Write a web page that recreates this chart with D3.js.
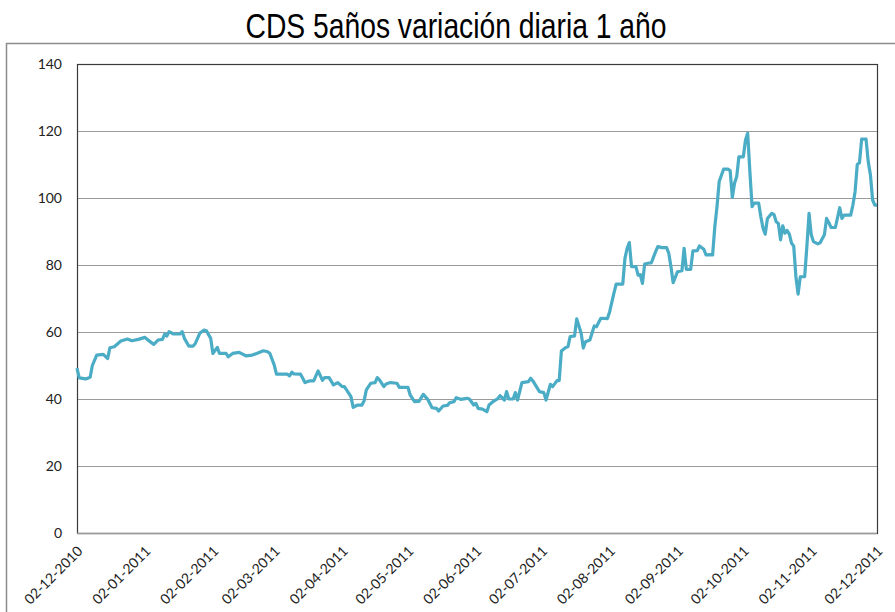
<!DOCTYPE html>
<html>
<head>
<meta charset="utf-8">
<script src="https://cdn.jsdelivr.net/npm/d3@7"></script>
<style>
  body { margin: 0; background: #fff; }
  svg { display: block; }
</style>
</head>
<body>
<svg width="895" height="612"></svg>
<script>
// CDS 5 years, daily readings
var dates = [
  "2010-12-02","2010-12-03","2010-12-06","2010-12-08","2010-12-09","2010-12-11","2010-12-14","2010-12-16","2010-12-17","2010-12-19",
  "2010-12-22","2010-12-25","2010-12-27","2010-12-30","2011-01-02","2011-01-03","2011-01-06","2011-01-08","2011-01-10","2011-01-11",
  "2011-01-12","2011-01-13","2011-01-15","2011-01-18","2011-01-19","2011-01-20","2011-01-22","2011-01-24","2011-01-25","2011-01-27",
  "2011-01-29","2011-01-30","2011-02-01","2011-02-02","2011-02-04","2011-02-05","2011-02-08","2011-02-09","2011-02-11","2011-02-14",
  "2011-02-17","2011-02-20","2011-02-22","2011-02-25","2011-02-27","2011-02-28","2011-03-02","2011-03-03","2011-03-08","2011-03-09",
  "2011-03-10","2011-03-11","2011-03-14","2011-03-15","2011-03-16","2011-03-18","2011-03-20","2011-03-22","2011-03-24","2011-03-25",
  "2011-03-27","2011-03-29","2011-03-31","2011-04-02","2011-04-03","2011-04-06","2011-04-07","2011-04-09","2011-04-11","2011-04-12",
  "2011-04-13","2011-04-15","2011-04-17","2011-04-18","2011-04-19","2011-04-21","2011-04-22","2011-04-24","2011-04-27","2011-04-28",
  "2011-05-02","2011-05-03","2011-05-05","2011-05-07","2011-05-09","2011-05-11","2011-05-13","2011-05-15","2011-05-16","2011-05-18",
  "2011-05-20","2011-05-21","2011-05-23","2011-05-24","2011-05-26","2011-05-29","2011-05-30","2011-06-01","2011-06-02","2011-06-03",
  "2011-06-05","2011-06-07","2011-06-08","2011-06-10","2011-06-12","2011-06-13","2011-06-15","2011-06-16","2011-06-17","2011-06-19",
  "2011-06-20","2011-06-21","2011-06-23","2011-06-26","2011-06-27","2011-06-28","2011-07-01","2011-07-03","2011-07-04","2011-07-06",
  "2011-07-07","2011-07-09","2011-07-10","2011-07-11","2011-07-13","2011-07-14","2011-07-15","2011-07-17","2011-07-18","2011-07-20",
  "2011-07-21","2011-07-22","2011-07-24","2011-07-26","2011-07-27","2011-07-29","2011-08-01","2011-08-02","2011-08-04","2011-08-05",
  "2011-08-08","2011-08-09","2011-08-10","2011-08-11","2011-08-12","2011-08-14","2011-08-15","2011-08-16","2011-08-17","2011-08-18",
  "2011-08-20","2011-08-21","2011-08-23","2011-08-24","2011-08-26","2011-08-28","2011-08-29","2011-08-30","2011-08-31","2011-09-02",
  "2011-09-04","2011-09-05","2011-09-06","2011-09-08","2011-09-09","2011-09-11","2011-09-12","2011-09-14","2011-09-15","2011-09-17",
  "2011-09-18","2011-09-19","2011-09-20","2011-09-21","2011-09-23","2011-09-25","2011-09-26","2011-09-27","2011-09-28","2011-09-29",
  "2011-09-30","2011-10-02","2011-10-03","2011-10-04","2011-10-05","2011-10-06","2011-10-07","2011-10-09","2011-10-10","2011-10-11",
  "2011-10-12","2011-10-13","2011-10-15","2011-10-16","2011-10-17","2011-10-18","2011-10-19","2011-10-20","2011-10-21","2011-10-22",
  "2011-10-23","2011-10-24","2011-10-25","2011-10-26","2011-10-27","2011-10-28","2011-10-30","2011-10-31","2011-11-01","2011-11-02",
  "2011-11-03","2011-11-05","2011-11-06","2011-11-08","2011-11-09","2011-11-10","2011-11-11","2011-11-13","2011-11-15","2011-11-16",
  "2011-11-17","2011-11-20","2011-11-21","2011-11-22","2011-11-23","2011-11-24","2011-11-25","2011-11-27","2011-11-28","2011-11-29",
  "2011-11-30","2011-12-01","2011-12-02"
];

var values = [
  49.2,46.3,46.0,46.5,50.0,53.1,53.3,52.1,55.3,55.6,
  57.3,57.9,57.4,57.8,58.4,57.8,56.3,57.6,57.8,59.4,
  58.8,60.1,59.4,59.4,60.1,58.1,55.8,55.8,56.6,59.6,
  60.6,60.4,58.1,53.6,55.4,53.6,53.6,52.6,53.6,53.9,
  52.9,53.1,53.6,54.4,54.1,53.6,50.1,47.4,47.4,46.9,
  48.0,47.5,47.4,46.2,44.9,45.4,45.4,48.4,45.6,46.4,
  46.4,44.2,44.9,43.7,43.7,40.7,37.5,38.2,38.2,39.5,
  42.7,44.7,44.9,46.4,45.7,43.7,44.5,44.9,44.7,43.5,
  43.5,41.2,39.2,39.3,41.4,39.9,37.4,37.2,36.4,37.9,
  38.1,38.9,39.2,40.4,39.9,40.2,40.0,38.2,38.7,37.2,
  37.0,36.2,38.2,39.3,40.1,41.0,39.7,42.2,40.0,40.0,
  41.9,39.7,44.9,45.2,46.2,45.4,42.2,41.9,39.7,44.4,
  43.7,45.5,45.5,54.3,55.4,55.6,58.6,58.8,63.9,59.7,
  55.2,57.1,57.6,61.8,61.6,64.1,64.0,66.0,71.7,74.3,
  74.3,82.0,85.0,86.7,79.5,79.5,77.0,77.1,74.5,80.3,
  80.6,80.6,84.0,85.5,85.2,85.2,83.5,79.5,74.7,78.0,
  78.3,85.0,78.7,78.7,84.2,84.3,85.7,84.7,83.0,83.1,
  83.0,91.4,97.4,104.9,108.6,108.6,108.2,100.2,104.4,106.4,
  112.3,112.3,117.3,119.3,107.9,97.4,98.5,98.5,94.4,91.0,
  89.2,93.9,95.4,95.1,92.9,92.4,87.5,91.7,89.5,90.3,
  89.2,86.5,85.7,76.5,71.3,76.5,76.5,85.5,95.4,89.0,
  87.0,86.3,86.6,89.0,93.9,92.7,91.2,91.2,97.1,93.9,
  94.9,94.9,97.9,101.9,110.0,110.5,117.6,117.6,110.8,106.9,
  99.4,97.9,97.9
];

var yTicks = [0, 20, 40, 60, 80, 100, 120, 140];
var xTicks = ["2010-12-02","2011-01-02","2011-02-02","2011-03-02","2011-04-02","2011-05-02","2011-06-02",
              "2011-07-02","2011-08-02","2011-09-02","2011-10-02","2011-11-02","2011-12-02"];

var parse = d3.timeParse("%Y-%m-%d"),
    fmt = d3.timeFormat("%d-%m-%Y");

var data = dates.map(function(d, i) { return {date: parse(d), value: values[i]}; });

var svg = d3.select("svg"),
    margin = {top: 64, right: 18, bottom: 79, left: 77},
    width = 877 - margin.left,
    height = 533 - margin.top;

// outer chart frame
svg.append("rect")
    .attr("x", 6.5).attr("y", 43.5)
    .attr("width", 900).attr("height", 600)
    .attr("fill", "none")
    .attr("stroke", "#8c8c8c")
    .attr("stroke-width", 1.5);

svg.append("text")
    .attr("x", 456).attr("y", 38)
    .attr("text-anchor", "middle")
    .attr("textLength", 421)
    .attr("lengthAdjust", "spacingAndGlyphs")
    .style("font-family", "'Liberation Sans', Arial, sans-serif")
    .style("font-size", "35px")
    .attr("fill", "#000")
    .text("CDS 5años variación diaria 1 año");

var x = d3.scaleTime()
    .domain([parse(xTicks[0]), parse(xTicks[xTicks.length - 1])])
    .range([0, width]);
var y = d3.scaleLinear().domain([0, 140]).range([height, 0]);

var g = svg.append("g")
    .attr("transform", "translate(" + margin.left + "," + margin.top + ")");

// gridlines
g.append("g")
    .call(d3.axisLeft(y).tickValues(yTicks).tickSize(-width).tickFormat(""))
    .call(function(s) { s.select(".domain").remove(); })
    .selectAll("line")
      .attr("stroke", "#9a9a9a");

// plot border
g.append("rect")
    .attr("x", 0.5).attr("y", 0.5)
    .attr("width", width).attr("height", height)
    .attr("fill", "none")
    .attr("stroke", "#3a3a3a")
    .attr("stroke-width", 1.2);

g.append("line")
    .attr("x1", 0).attr("x2", width)
    .attr("y1", height + 0.5).attr("y2", height + 0.5)
    .attr("stroke", "#9a9a9a").attr("stroke-width", 1.5);

// y labels
g.append("g")
    .call(d3.axisLeft(y).tickValues(yTicks).tickSize(0).tickPadding(15))
    .call(function(s) { s.select(".domain").remove(); })
    .selectAll("text")
      .style("font-family", "Lato, 'Open Sans', sans-serif")
      .style("font-size", "14px")
      .attr("fill", "#222");

// x labels
var xa = g.append("g")
    .attr("transform", "translate(0," + height + ")")
    .call(d3.axisBottom(x).tickValues(xTicks.map(parse)).tickSize(0).tickFormat(fmt));
xa.select(".domain").remove();
xa.selectAll("text")
    .style("font-family", "Lato, 'Open Sans', sans-serif")
    .style("font-size", "14px")
    .attr("fill", "#222")
    .attr("y", 0).attr("dy", 0)
    .attr("transform", "translate(6,19) rotate(-45)")
    .style("text-anchor", "end");

var line = d3.line()
    .x(function(d) { return x(d.date); })
    .y(function(d) { return y(d.value); });

g.append("path")
    .datum(data)
    .attr("fill", "none")
    .attr("stroke", "#4aacc5")
    .attr("stroke-width", 3.2)
    .attr("stroke-linejoin", "round")
    .attr("d", line);
</script>
</body>
</html>
